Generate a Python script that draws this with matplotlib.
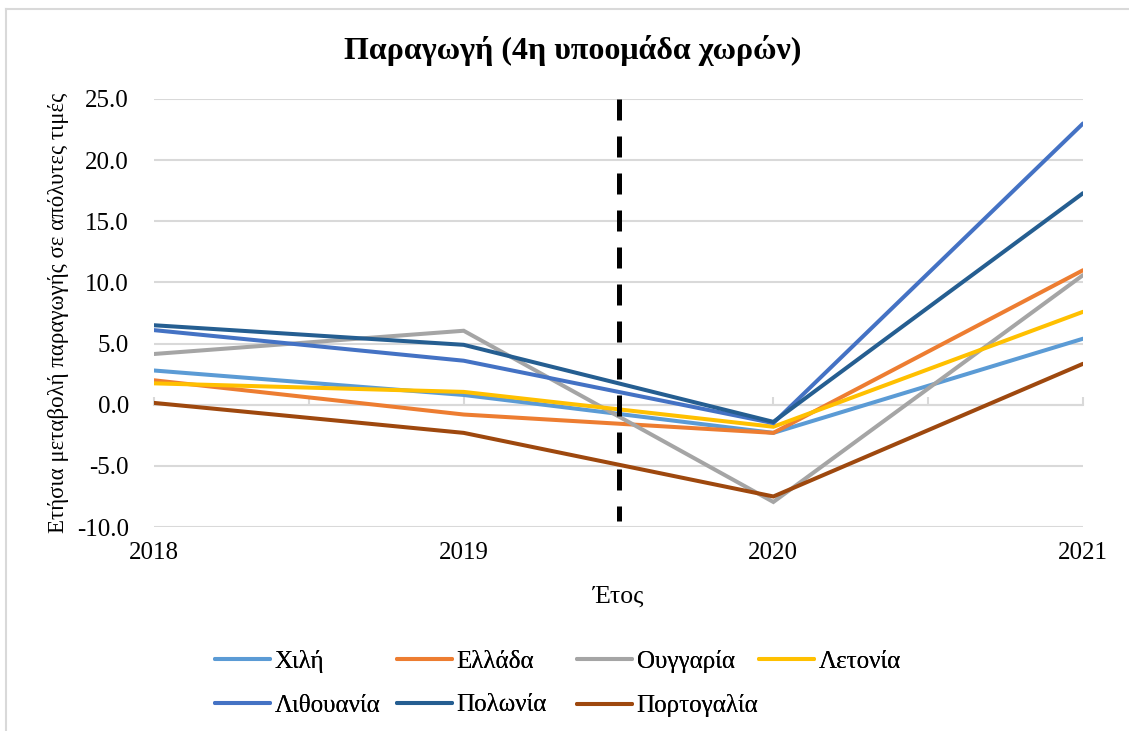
"""Annual change in production, 4th subgroup of countries (2018-2021)."""

import matplotlib
matplotlib.use('Agg')
import matplotlib.pyplot as plt
from matplotlib.lines import Line2D

SERIF = ['Liberation Serif', 'DejaVu Serif']
plt.rcParams['font.family'] = SERIF
plt.rcParams['font.serif'] = SERIF

years = [2018, 2019, 2020, 2021]
countries = ['Χιλή', 'Ελλάδα', 'Ουγγαρία', 'Λετονία',
             'Λιθουανία', 'Πολωνία', 'Πορτογαλία']
chile = [2.8, 0.8, -2.3, 5.4]
greece = [2.0, -0.8, -2.3, 11.0]
hungary = [4.15, 6.05, -7.95, 10.6]
latvia = [1.75, 1.05, -1.8, 7.6]
lithuania = [6.1, 3.6, -1.5, 23.0]
poland = [6.5, 4.9, -1.4, 17.3]
portugal = [0.15, -2.3, -7.5, 3.35]
colors = ['#5B9BD5', '#ED7D31', '#A5A5A5', '#FFC000',
          '#4472C4', '#255E91', '#9E480E']

# vertical marker between 2019 and 2020
marker_x = [2019.5, 2019.5]
marker_y = [25.0, -9.5]

GRID = '#D9D9D9'
W, H = 1129, 731


def main():
    fig = plt.figure(figsize=(W / 100, H / 100), dpi=100, facecolor='white')
    ax = fig.add_axes([0.1364, 0.279, 0.8229, 0.5856])

    series = [chile, greece, hungary, latvia, lithuania, poland, portugal]
    handles = []
    for name, vals, col in zip(countries, series, colors):
        h, = ax.plot(years, vals, color=col, lw=2.9, label=name,
                     solid_capstyle='round', solid_joinstyle='miter', zorder=3)
        handles.append(h)

    ax.plot(marker_x, marker_y, color='black', lw=3.6,
            linestyle=(0, (4.2, 3.2)), zorder=4)

    ax.set_xlim(2018, 2021)
    ax.set_ylim(-10, 25)
    ax.set_yticks(range(-10, 26, 5))
    ax.set_yticklabels([f'{v:.1f}' for v in range(-10, 26, 5)],
                       fontsize=18, family=SERIF)
    ax.yaxis.grid(True, color=GRID, lw=1.5)
    ax.set_axisbelow(True)
    ax.tick_params(axis='y', length=0, pad=18)

    for s in ['left', 'right', 'top']:
        ax.spines[s].set_visible(False)
    # horizontal axis line at zero with small upward ticks
    ax.spines['bottom'].set_position(('data', 0))
    ax.spines['bottom'].set_color(GRID)
    ax.spines['bottom'].set_linewidth(1.5)
    ax.set_xticks([2018, 2018.5, 2019, 2019.5, 2020, 2020.5, 2021])
    ax.tick_params(axis='x', direction='in', length=6, width=1.5,
                   color=GRID, labelbottom=False)

    sec = ax.secondary_xaxis(0)
    sec.set_xticks(years)
    sec.set_xticklabels([str(y) for y in years], fontsize=18, family=SERIF)
    sec.tick_params(length=0, pad=11)
    sec.spines['bottom'].set_visible(False)
    sec.set_xlabel('Έτος', fontsize=18.5, labelpad=15, family=SERIF)

    ax.set_ylabel('Ετήσια μεταβολή παραγωγής σε απόλυτες τιμές',
                  fontsize=16.5, labelpad=6, family=SERIF)

    fig.text(0.507, 1 - 50 / H, 'Παραγωγή (4η υποομάδα χωρών)', family=SERIF,
             fontsize=23, weight='bold', ha='center', va='center')

    # Excel-style legend: equal-width columns, entries flow row by row
    ncol = 4
    col_x = [215, 397, 577, 759]
    for c in range(ncol):
        idx = list(range(c, len(countries), ncol))
        leg = fig.legend([handles[i] for i in idx], [countries[i] for i in idx],
                         loc='upper left', bbox_to_anchor=(col_x[c] / W, 1 - 650 / H),
                         frameon=False, prop={'family': SERIF, 'size': 18},
                         handlelength=2.2, handletextpad=0.18,
                         labelspacing=0.85, borderpad=0, borderaxespad=0)
        fig.add_artist(leg)

    # chart area border (left and top edges visible)
    fig.add_artist(Line2D([6 / W, 6 / W], [0, 1 - 9 / H],
                          transform=fig.transFigure, color=GRID, lw=1.5))
    fig.add_artist(Line2D([6 / W, 1], [1 - 9 / H, 1 - 9 / H],
                          transform=fig.transFigure, color=GRID, lw=1.5))

    fig.savefig('out.png', dpi=100, facecolor='white')
    plt.close(fig)


if __name__ == '__main__':
    main()
